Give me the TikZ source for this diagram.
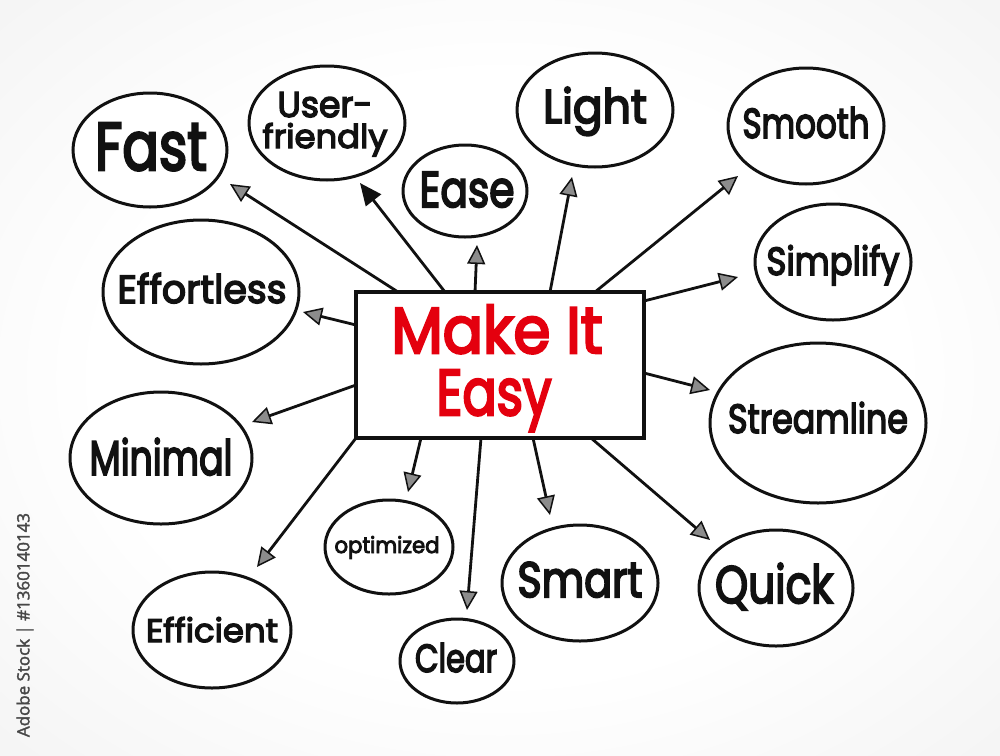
\documentclass[tikz,border=0pt]{standalone}
\usepackage{fontspec}
\setmainfont{Poppins}
\newfontfamily\hand{Poppins}[FakeBold=4]
\newfontfamily\wmfont{Open Sans}[FakeBold=2]
\usetikzlibrary{shapes.geometric,arrows.meta,calc}
\definecolor{mkred}{RGB}{228,0,14}
\definecolor{ink}{RGB}{17,17,17}
\pgfdeclareradialshading{bgvig}{\pgfpoint{0bp}{0bp}}{color(0bp)=(white); color(20bp)=(white); color(50bp)=(black!8); color(72bp)=(black!14)}
\newcommand\lbl[3]{\resizebox{#1pt}{#2pt}{\hand #3}}
\begin{document}
\begin{tikzpicture}[x=1pt,y=-1pt,
  bubble/.style={draw=ink, line width=3pt, ellipse, inner sep=0pt, fill=white},
  word/.style={inner sep=0pt, text=ink, anchor=base},
  redword/.style={inner sep=0pt, text=mkred, anchor=base},
  arr/.style={draw=ink, line width=2.8pt, -{Triangle[length=19pt,width=18pt,fill=black!45,line width=1.5pt]}},
  arrsolid/.style={draw=ink, line width=2.8pt, -{Triangle[length=22pt,width=19pt,fill=ink]}},
  corebox/.style={draw=ink, line width=4pt, fill=white, inner sep=0pt, minimum width=284pt, minimum height=142pt}]
\useasboundingbox (0,0) rectangle (1000,755);
\shade[shading=bgvig] (0,0) rectangle (1000,755);

% watermark id
\node[rotate=90, text=black!72, inner sep=0pt, font=\wmfont] (wm) at (25,625) {\resizebox{224pt}{!}{Adobe Stock | \#1360140143}};

% bubbles
\node[bubble, minimum width=154pt, minimum height=114pt] (fast) at (150,150) {};
\node[bubble, minimum width=156pt, minimum height=114pt] (user) at (327,123) {};
\node[bubble, minimum width=124pt, minimum height=92pt] (ease) at (465,191) {};
\node[bubble, minimum width=156pt, minimum height=114pt] (light) at (595,110) {};
\node[bubble, minimum width=156pt, minimum height=116pt] (smooth) at (806,126) {};
\node[bubble, minimum width=156pt, minimum height=116pt] (simplify) at (833,262) {};
\node[bubble, minimum width=196pt, minimum height=144pt] (effortless) at (201,292) {};
\node[bubble, minimum width=216pt, minimum height=160pt] (streamline) at (818,423) {};
\node[bubble, minimum width=182pt, minimum height=132pt] (minimal) at (161,458) {};
\node[bubble, minimum width=128pt, minimum height=94pt] (optimized) at (389,547) {};
\node[bubble, minimum width=158pt, minimum height=116pt] (efficient) at (212,630) {};
\node[bubble, minimum width=114pt, minimum height=84pt] (clear) at (457,661) {};
\node[bubble, minimum width=156pt, minimum height=116pt] (smart) at (580,583) {};
\node[bubble, minimum width=154pt, minimum height=116pt] (quick) at (776,588) {};

% words
\node[word] (tfast) at (151,170) {\lbl{112}{47}{Fast}};
\node[word] (tuser1) at (325,117) {\lbl{95}{25}{User-}};
\node[word] (tuser2) at (325,148) {\lbl{125}{25}{friendly}};
\node[word] (tease) at (467,207) {\lbl{95}{35}{Ease}};
\node[word] (tlight) at (595,123) {\lbl{104}{36}{Light}};
\node[word] (tsmooth) at (806,138) {\lbl{127}{31}{Smooth}};
\node[word] (tsimplify) at (833,275) {\lbl{133}{30}{Simplify}};
\node[word] (teffortless) at (202,303) {\lbl{169}{30}{Effortless}};
\node[word] (tstreamline) at (818,433) {\lbl{180}{31}{Streamline}};
\node[word] (tminimal) at (161,475) {\lbl{143}{37}{Minimal}};
\node[word] (toptimized) at (387,553) {\lbl{105}{17}{optimized}};
\node[word] (tefficient) at (212,642) {\lbl{132}{25}{Efficient}};
\node[word] (tclear) at (456,672) {\lbl{82}{29}{Clear}};
\node[word] (tsmart) at (580,597) {\lbl{125}{35}{Smart}};
\node[word] (tquick) at (774,603) {\lbl{118}{40}{Quick}};

% central box
\path (500,365) node[corebox] (core) {};

% start points on the box
\coordinate (sFast) at ($(core.north west)+(42,0)$);
\coordinate (sUser) at ($(core.north west)+(89,0)$);
\coordinate (sEase) at ($(core.north west)+(119,0)$);
\coordinate (sLight) at ($(core.north west)+(194,0)$);
\coordinate (sSmooth) at ($(core.north west)+(239,0)$);
\coordinate (sSimplify) at ($(core.north east)+(0,9)$);
\coordinate (sStreamline) at ($(core.north east)+(0,81)$);
\coordinate (sQuick) at ($(core.south west)+(235,0)$);
\coordinate (sSmart) at ($(core.south west)+(177,0)$);
\coordinate (sClear) at ($(core.south west)+(125,0)$);
\coordinate (sOptimized) at ($(core.south west)+(65,0)$);
\coordinate (sEfficient) at (core.south west);
\coordinate (sMinimal) at ($(core.north west)+(0,93)$);
\coordinate (sEffortless) at ($(core.north west)+(0,33)$);

% arrow tips (free ends)
\coordinate (eFast) at (230,184);
\coordinate (eUser) at (360,183);
\coordinate (eEase) at (477,245);
\coordinate (eLight) at (572,177);
\coordinate (eSmooth) at (738,176);
\coordinate (eSimplify) at (738,277);
\coordinate (eStreamline) at (710,390);
\coordinate (eQuick) at (710,540);
\coordinate (eSmart) at (550,515);
\coordinate (eClear) at (467,610);
\coordinate (eOptimized) at (408,492);
\coordinate (eEfficient) at (257,567);
\coordinate (eMinimal) at (252,422);
\coordinate (eEffortless) at (303,312);

\draw[arr] (sFast) -- (eFast);
\draw[arrsolid] (sUser) -- (eUser);
\draw[arr] (sEase) -- (eEase);
\draw[arr] (sLight) -- (eLight);
\draw[arr] (sSmooth) -- (eSmooth);
\draw[arr] (sSimplify) -- (eSimplify);
\draw[arr] (sStreamline) -- (eStreamline);
\draw[arr] (sQuick) -- (eQuick);
\draw[arr] (sSmart) -- (eSmart);
\draw[arr] (sClear) -- (eClear);
\draw[arr] (sOptimized) -- (eOptimized);
\draw[arr] (sEfficient) -- (eEfficient);
\draw[arr] (sMinimal) -- (eMinimal);
\draw[arr] (sEffortless) -- (eEffortless);

% redraw box on top of arrow starts
\draw[draw=ink, line width=4pt, fill=white] (core.north west) rectangle (core.south east);
\node[redword] (mk1) at (497,353) {\lbl{211}{48}{Make It}};
\node[redword] (mk2) at (494,415) {\lbl{115}{45}{Easy}};
\end{tikzpicture}
\end{document}
